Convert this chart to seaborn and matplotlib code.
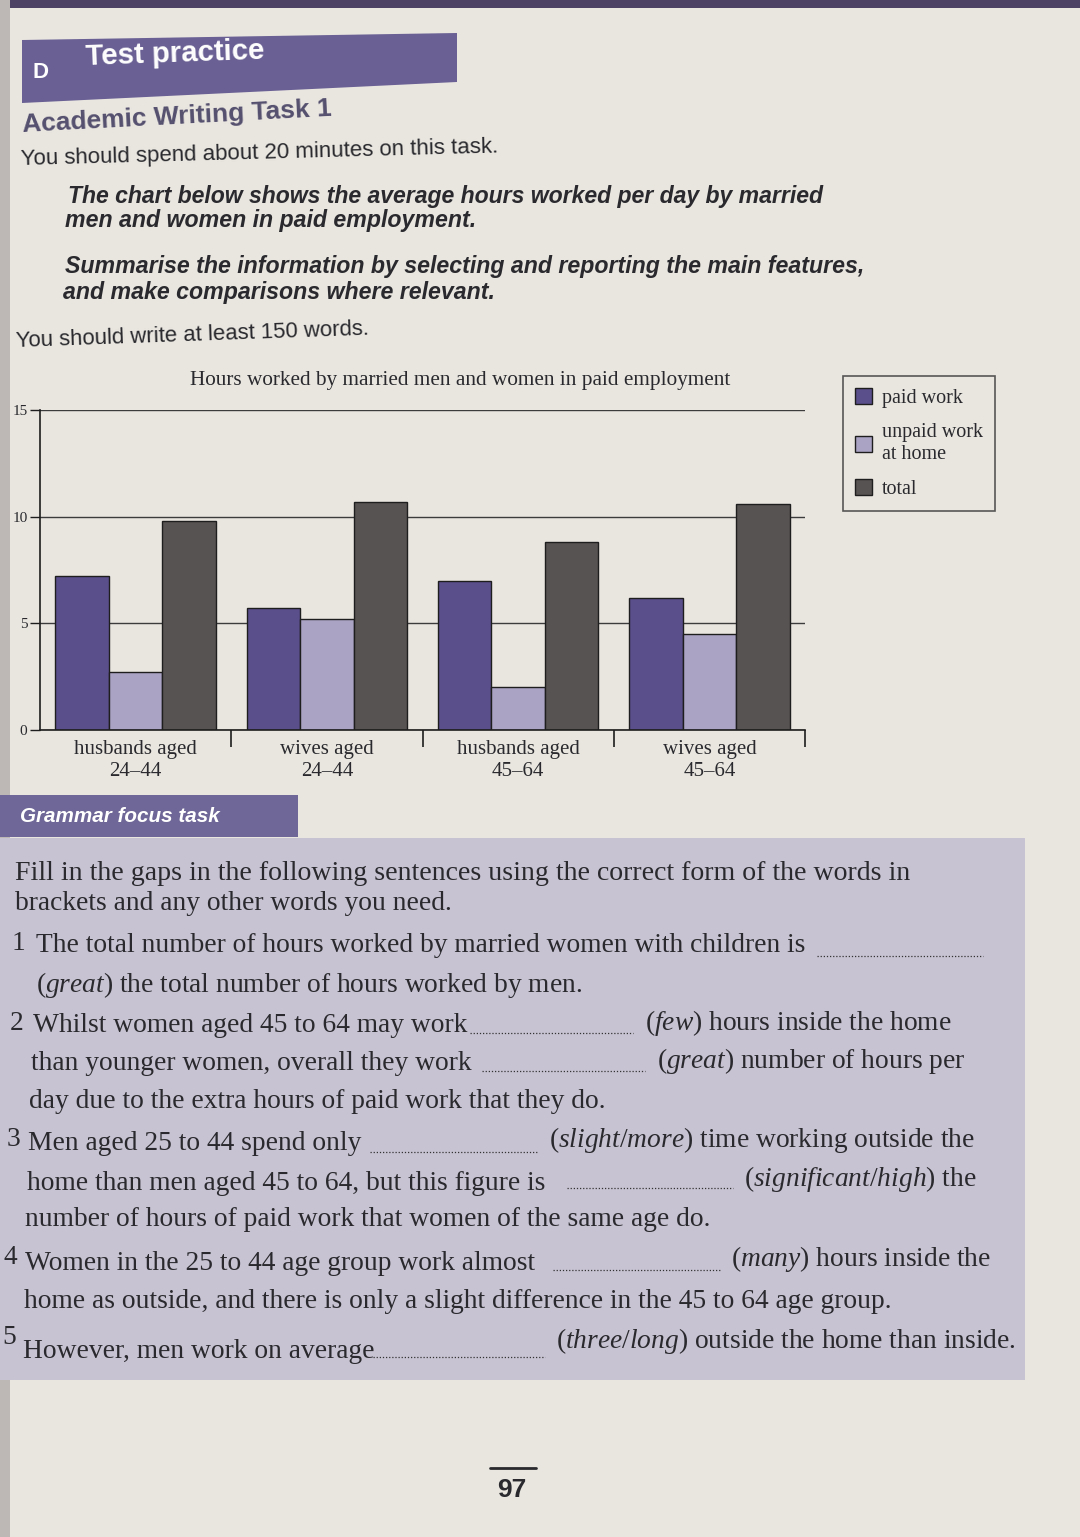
import numpy as np
import pandas as pd
import matplotlib
matplotlib.use("Agg")
import matplotlib.pyplot as plt
import seaborn as sns
from matplotlib.patches import Rectangle, Polygon
from matplotlib.lines import Line2D

# chart data (hours per day)
groups = ["husbands aged\n24\u201344", "wives aged\n24\u201344",
          "husbands aged\n45\u201364", "wives aged\n45\u201364"]
series = ["paid work", "unpaid work\nat home", "total"]
paid = [7.2, 5.7, 7.0, 6.2]
unpaid = [2.7, 5.2, 2.0, 4.5]
total = [9.8, 10.7, 8.8, 10.6]
yticks = [0, 5, 10, 15]
colors = ["#5a4e8b", "#aba3c4", "#565352"]
title = "Hours worked by married men and women in paid employment"

df = pd.DataFrame({
    "group": groups * 3,
    "series": np.repeat(series, len(groups)),
    "hours": paid + unpaid + total,
})

sns.set_theme(style="white")
plt.rcParams["font.family"] = ["Liberation Serif", "DejaVu Serif"]
plt.rcParams["mathtext.fontset"] = "custom"
plt.rcParams["mathtext.rm"] = "Liberation Serif"
plt.rcParams["mathtext.it"] = "Liberation Serif:italic"

W, H = 1080, 1537
bg = "#e9e6e0"
purple = "#6a6094"
ink = "#2a2a2e"
sans = ["Liberation Sans Narrow", "Liberation Sans", "DejaVu Sans"]

fig = plt.figure(figsize=(W / 100, H / 100), dpi=100)
fig.patch.set_facecolor(bg)
renderer = fig.canvas.get_renderer()


def px(x, y):
    return x / W, 1 - y / H


def put(x, y, s, width=None, **kw):
    kw.setdefault("va", "center")
    kw.setdefault("color", ink)
    t = fig.text(*px(x, y), s, **kw)
    if width:
        w = t.get_window_extent(renderer).width
        t.set_fontsize(t.get_fontsize() * width / w)
    return t


def box(x0, y0, x1, y1, color, **kw):
    fig.add_artist(Rectangle(px(x0, y1), (x1 - x0) / W, (y1 - y0) / H,
                             transform=fig.transFigure, facecolor=color,
                             edgecolor="none", **kw))


def dots(x0, x1, y):
    fig.add_artist(Line2D([x0 / W, x1 / W], [1 - y / H] * 2, transform=fig.transFigure,
                          color="#333", lw=0.9, linestyle=(0, (1, 1.5))))


# page decoration
box(0, 0, 10, H, "#bdb8b5")
box(10, 0, 1080, 8, "#4d4264")
box(0, 838, 1025, 1380, "#c8c3d3")
fig.add_artist(Polygon([px(22, 40), px(457, 33), px(457, 82), px(22, 103)],
                       closed=True, transform=fig.transFigure,
                       facecolor=purple, edgecolor="none"))
box(0, 795, 298, 837, "#6e6797")

# header text
put(33, 73, "D", fontsize=16, color="white", family=sans, weight="bold")
put(85, 54, "Test practice", width=180, fontsize=20, color="white", family=sans,
    weight="bold", rotation=2)
put(22, 117, "Academic Writing Task 1", width=312, fontsize=17, color="#55506e",
    family=sans, weight="bold", rotation=3)
put(20, 153, "You should spend about 20 minutes on this task.", width=480,
    fontsize=15, family=sans, rotation=1.5)
put(68, 197, "The chart below shows the average hours worked per day by married",
    width=758, fontsize=15, family=sans, weight="bold", style="italic")
put(65, 221, "men and women in paid employment.", width=412, fontsize=15,
    family=sans, weight="bold", style="italic")
put(65, 266, "Summarise the information by selecting and reporting the main features,",
    width=800, fontsize=15, family=sans, weight="bold", style="italic")
put(63, 292, "and make comparisons where relevant.", width=432, fontsize=15,
    family=sans, weight="bold", style="italic")
put(15, 335, "You should write at least 150 words.", width=355, fontsize=15,
    family=sans, rotation=2)

# the chart
ax = fig.add_axes([40 / W, 1 - 730 / H, (805 - 40) / W, (730 - 410) / H])
ax.set_facecolor("none")
sns.barplot(data=df, x="group", y="hours", hue="series", palette=colors,
            width=0.84, edgecolor="#1e1e1e", linewidth=1.0, saturation=1,
            ax=ax)
handles, labels = ax.get_legend_handles_labels()
ax.get_legend().remove()

ax.set_xlim(-0.5, 3.5)
ax.set_ylim(0, 15)
ax.set_yticks(yticks)
ax.set_xlabel("")
ax.set_ylabel("")
ax.set_axisbelow(True)
ax.yaxis.grid(True, color="#3c3c3c", lw=1.0)
ax.xaxis.grid(False)
for s in ["top", "right"]:
    ax.spines[s].set_visible(False)
for s in ["left", "bottom"]:
    ax.spines[s].set_color("#1e1e1e")
    ax.spines[s].set_linewidth(1.2)
ax.set_xticks([0.5, 1.5, 2.5, 3.5], minor=True)
ax.tick_params(axis="x", which="major", bottom=True, length=0, pad=7, labelsize=15,
               colors=ink)
ax.tick_params(axis="x", which="minor", bottom=True, length=12, width=1.2,
               color="#1e1e1e", direction="out")
ax.tick_params(axis="y", left=True, length=7, width=1.0, color="#1e1e1e",
               direction="out", labelsize=11, pad=2, labelcolor=ink)
for t in ax.get_xticklabels():
    t.set_linespacing(1.25)

put(460, 380, title, width=543, fontsize=14, ha="center")

leg = fig.legend(handles, labels, loc="upper left", bbox_to_anchor=px(843, 376),
                 frameon=True, fancybox=False, fontsize=14.5, handlelength=0.85,
                 handleheight=0.85, handletextpad=0.5, labelspacing=0.75,
                 borderpad=0.6, borderaxespad=0)
leg.get_frame().set_facecolor(bg)
leg.get_frame().set_edgecolor("#333")
leg.get_frame().set_linewidth(1.2)
for t in leg.get_texts():
    t.set_color(ink)

# grammar focus task
put(20, 816, "Grammar focus task", width=200, fontsize=14, color="white",
    family=sans, weight="bold", style="italic")

fs = 19.8
put(15, 873, "Fill in the gaps in the following sentences using the correct form of the words in",
    width=895, fontsize=fs)
put(15, 903, "brackets and any other words you need.", fontsize=fs)

put(12, 944, "1", fontsize=fs)
put(36, 946, "The total number of hours worked by married women with children is", fontsize=fs)
dots(817, 983, 956)
put(36, 985, r"($\mathit{great}$) the total number of hours worked by men.", fontsize=fs)

put(10, 1023, "2", fontsize=fs)
put(33, 1026, "Whilst women aged 45 to 64 may work", fontsize=fs)
dots(470, 633, 1033)
put(645, 1023, r"($\mathit{few}$) hours inside the home", fontsize=fs)
put(31, 1064, "than younger women, overall they work", fontsize=fs)
dots(482, 645, 1071)
put(657, 1061, r"($\mathit{great}$) number of hours per", fontsize=fs)
put(29, 1101, "day due to the extra hours of paid work that they do.", fontsize=fs)

put(7, 1139, "3", fontsize=fs)
put(28, 1144, "Men aged 25 to 44 spend only", fontsize=fs)
dots(370, 538, 1152)
put(549, 1140, r"($\mathit{slight/more}$) time working outside the", fontsize=fs)
put(27, 1183, "home than men aged 45 to 64, but this figure is", fontsize=fs)
dots(567, 733, 1188)
put(744, 1179, r"($\mathit{significant/high}$) the", fontsize=fs)
put(25, 1219, "number of hours of paid work that women of the same age do.", fontsize=fs)

put(4, 1258, "4", fontsize=fs)
put(25, 1264, "Women in the 25 to 44 age group work almost", fontsize=fs)
dots(553, 720, 1270)
put(731, 1259, r"($\mathit{many}$) hours inside the", fontsize=fs)
put(24, 1302, "home as outside, and there is only a slight difference in the 45 to 64 age group.",
    fontsize=fs)

put(2, 1338, "5", fontsize=fs)
put(23, 1351, "However, men work on average", fontsize=fs)
dots(373, 545, 1357)
put(556, 1341, r"($\mathit{three/long}$) outside the home than inside.", fontsize=fs)

# page number
fig.add_artist(Line2D([490 / W, 536 / W], [1 - 1468 / H] * 2, transform=fig.transFigure,
                      color=ink, lw=2))
put(512, 1490, "97", ha="center", fontsize=19, family=sans, weight="bold")

fig.savefig("out.png", dpi=100, facecolor=fig.get_facecolor())
